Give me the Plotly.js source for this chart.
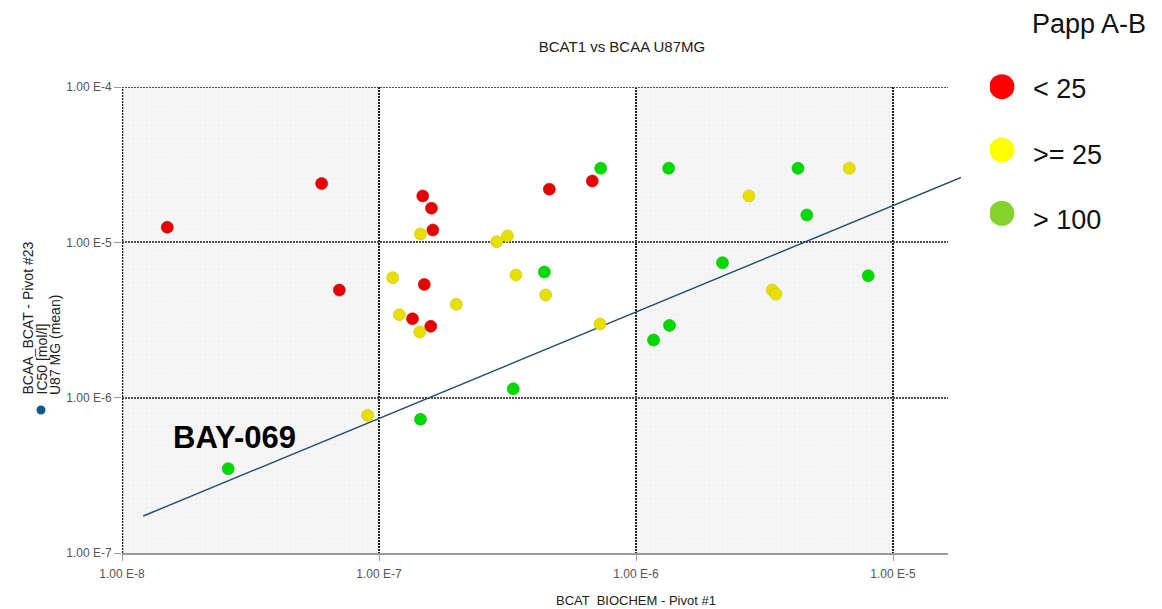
<!DOCTYPE html>
<html><head><meta charset="utf-8">
<script src="https://cdn.plot.ly/plotly-3.0.1.min.js"></script>
<style>html,body{margin:0;padding:0;background:#fff}#chart{width:1162px;height:609px}</style>
</head><body><div id="chart"></div>
<script>
// ---------------- data ----------------
const xTickVals = [1e-8, 1e-7, 1e-6, 1e-5];
const xTickText = ['1.00 E-8', '1.00 E-7', '1.00 E-6', '1.00 E-5'];
const yTickVals = [1e-7, 1e-6, 1e-5, 1e-4];
const yTickText = ['1.00 E-7', '1.00 E-6', '1.00 E-5', '1.00 E-4'];

// shaded decades (BCAT biochem IC50 bands)
const shadedBands = [[1e-8, 1e-7], [1e-6, 1e-5]];

// Papp A-B < 25 (red)
const redX = [1.50e-8, 5.98e-8, 7.01e-8, 1.48e-7, 1.60e-7, 1.62e-7, 1.50e-7, 1.35e-7, 1.59e-7, 4.60e-7, 6.76e-7];
const redY = [1.25e-5, 2.39e-5, 4.93e-6, 1.99e-5, 1.66e-5, 1.20e-5, 5.36e-6, 3.22e-6, 2.88e-6, 2.20e-5, 2.48e-5];
// Papp A-B >= 25 (yellow)
const yellowX = [9.04e-8, 1.45e-7, 2.87e-7, 3.16e-7, 1.13e-7, 3.41e-7, 4.45e-7, 2.00e-7, 1.20e-7, 1.44e-7, 7.24e-7, 2.75e-6, 6.76e-6, 3.39e-6, 3.50e-6];
const yellowY = [7.69e-7, 1.13e-5, 1.01e-5, 1.10e-5, 5.92e-6, 6.16e-6, 4.58e-6, 3.99e-6, 3.42e-6, 2.65e-6, 2.98e-6, 1.99e-5, 3.00e-5, 4.93e-6, 4.65e-6];
// Papp A-B > 100 (green)
const greenX = [2.59e-8, 1.45e-7, 3.33e-7, 4.40e-7, 7.29e-7, 1.34e-6, 4.27e-6, 4.62e-6, 2.17e-6, 8.01e-6, 1.35e-6, 1.17e-6];
const greenY = [3.49e-7, 7.25e-7, 1.14e-6, 6.44e-6, 3.00e-5, 3.00e-5, 3.00e-5, 1.50e-5, 7.39e-6, 6.09e-6, 2.92e-6, 2.35e-6];

// regression line (log-log)
const trendX = [1.21e-8, 1.84e-5];
const trendY = [1.73e-7, 2.62e-5];

// legend
const legendTitle = 'Papp A-B';
const legendLabels = ['< 25', '>= 25', '> 100'];
const legendColors = ['#ff0000', '#ffff00', '#86d22c'];

// ---------------- layout helpers ----------------
const W = 1162, H = 609;
const px = v => v / W;
const py = v => 1 - v / H;
const FONT = 'Liberation Sans, Arial, Helvetica, sans-serif';
const DEC = 257; // px per decade
const plotL = 122, plotR = 948, plotT = 87, plotB = 553, lineR = 961;
const xLo = Math.log10(xTickVals[0]);
const yRange = [Math.log10(yTickVals[0]), Math.log10(yTickVals[yTickVals.length - 1])];
const yMin = yTickVals[0], yMax = yTickVals[yTickVals.length - 1];

const VGRID = {color: '#222', width: 2.5, dash: '2px,1px'};
const HGRID = {color: '#505050', width: 1.8, dash: '2px,1px'};

const traces = [];
shadedBands.forEach(b => {
  traces.push({
    type: 'scatter', mode: 'none', xaxis: 'x', yaxis: 'y',
    x: [b[0], b[1], b[1], b[0]],
    y: [yMin, yMin, yMax, yMax],
    fill: 'toself', fillcolor: '#f5f5f5',
    fillpattern: {shape: '+', size: 4.5, solidity: 0.12, fgcolor: '#e9e9e9', bgcolor: '#f6f6f6', fgopacity: 1},
    hoverinfo: 'skip', showlegend: false
  });
});
// empty trace so the grid-only subplot (x2,y2) is created above the bands
traces.push({type: 'scatter', mode: 'markers', xaxis: 'x2', yaxis: 'y2', x: [], y: [], hoverinfo: 'skip'});
traces.push({
  type: 'scatter', mode: 'lines', xaxis: 'x3', yaxis: 'y',
  x: trendX, y: trendY, line: {color: '#1f4d69', width: 1.4}, hoverinfo: 'skip'
});
const series = [
  {x: redX, y: redY, c: '#e60000', l: '#c40000', n: '< 25'},
  {x: yellowX, y: yellowY, c: '#e6df00', l: '#c9c200', n: '>= 25'},
  {x: greenX, y: greenY, c: '#00da00', l: '#00b400', n: '> 100'}
];
series.forEach(s => traces.push({
  type: 'scatter', mode: 'markers', xaxis: 'x3', yaxis: 'y', name: s.n,
  x: s.x, y: s.y,
  marker: {size: 12, color: s.c, line: {color: s.l, width: 0.6}}
}));
traces.push({
  type: 'scatter', mode: 'markers', xaxis: 'x4', yaxis: 'y4',
  x: legendLabels.map(() => 0), y: legendLabels.map((_, i) => i),
  marker: {size: 25, color: legendColors}, hoverinfo: 'skip'
});

const tickFont = {size: 12, color: '#555', family: FONT};
const annotations = [
  {text: 'BCAT  BIOCHEM - Pivot #1', xref: 'paper', yref: 'paper', x: px(636), y: py(600),
   xanchor: 'center', yanchor: 'middle', showarrow: false, font: {size: 13, color: '#222'}},
  {text: 'BCAA_BCAT - Pivot #23', xref: 'paper', yref: 'paper', x: px(27), y: py(397), textangle: -90,
   xanchor: 'center', yanchor: 'bottom', showarrow: false, font: {size: 14, color: '#222'}},
  {text: 'IC50 [mol/l]', xref: 'paper', yref: 'paper', x: px(41), y: py(397), textangle: -90,
   xanchor: 'center', yanchor: 'bottom', showarrow: false, font: {size: 14, color: '#222'}},
  {text: 'U87 MG (mean)', xref: 'paper', yref: 'paper', x: px(55), y: py(397), textangle: -90,
   xanchor: 'center', yanchor: 'bottom', showarrow: false, font: {size: 14, color: '#222'}},
  {text: '<b>BAY-069</b>', xref: 'paper', yref: 'paper', x: px(234), y: py(437),
   xanchor: 'center', yanchor: 'middle', showarrow: false, font: {size: 31, color: '#000'}},
  {text: legendTitle, xref: 'paper', yref: 'paper', x: px(1089), y: py(24),
   xanchor: 'center', yanchor: 'middle', showarrow: false, font: {size: 27, color: '#111'}}
];
legendLabels.forEach((lab, i) => annotations.push({
  text: lab, xref: 'x4', yref: 'y4', x: 0, y: i, xanchor: 'left', yanchor: 'middle',
  xshift: 29, yshift: -2 - 2.5 * i, showarrow: false, font: {size: 27, color: '#111'}
}));

const layout = {
  width: W, height: H,
  margin: {l: 0, r: 0, t: 0, b: 0},
  paper_bgcolor: '#ffffff', plot_bgcolor: 'rgba(0,0,0,0)',
  showlegend: false, hovermode: false,
  font: {family: FONT, color: '#333'},
  title: {text: 'BCAT1 vs BCAA U87MG', x: px(622), xanchor: 'center', y: py(47), yanchor: 'middle',
          font: {size: 15, color: '#222', family: FONT}},
  xaxis: {type: 'log', domain: [px(plotL), px(plotR)], range: [xLo, xLo + (plotR - plotL) / DEC], anchor: 'y',
          tickvals: xTickVals, ticktext: xTickText, ticks: 'outside', ticklen: 6, tickcolor: '#9a9a9a',
          showline: true, linecolor: '#9a9a9a', linewidth: 2, showgrid: false, zeroline: false,
          tickfont: tickFont, ticklabelstandoff: 3},
  yaxis: {type: 'log', domain: [py(plotB), py(plotT)], range: yRange, anchor: 'x',
          tickvals: yTickVals, ticktext: yTickText, ticks: 'outside', ticklen: 7, tickcolor: '#9a9a9a',
          showline: false, showgrid: false, zeroline: false, tickfont: tickFont},
  xaxis2: {type: 'log', domain: [px(plotL), px(plotR)], range: [xLo, xLo + (plotR - plotL) / DEC], anchor: 'y2',
           tickvals: xTickVals, showticklabels: false, ticks: '', showline: false, zeroline: false,
           showgrid: true, gridcolor: VGRID.color, gridwidth: VGRID.width, griddash: VGRID.dash},
  yaxis2: {type: 'log', domain: [py(plotB), py(plotT)], range: yRange, anchor: 'x2',
           tickvals: yTickVals.slice(1), showticklabels: false, ticks: '', showline: false, zeroline: false,
           showgrid: true, gridcolor: HGRID.color, gridwidth: HGRID.width, griddash: HGRID.dash},
  xaxis3: {type: 'log', domain: [px(plotL), px(lineR)], range: [xLo, xLo + (lineR - plotL) / DEC], anchor: 'y',
           visible: false},
  xaxis4: {domain: [px(990), px(1160)], range: [-0.075, 1], anchor: 'y4', visible: false},
  yaxis4: {domain: [py(245), py(55)], range: [legendLabels.length - 0.5, -0.5], anchor: 'x4', visible: false},
  annotations: annotations,
  shapes: [
    // grid lines on the plot edges (Plotly drops gridlines that sit on the range limits)
    {type: 'line', xref: 'x', yref: 'y domain', x0: xTickVals[0], x1: xTickVals[0], y0: 0, y1: 1,
     layer: 'above', line: VGRID},
    {type: 'line', xref: 'x domain', yref: 'y', x0: 0, x1: 1, y0: yMax, y1: yMax,
     layer: 'above', line: HGRID},
    {type: 'circle', xref: 'paper', yref: 'paper', x0: px(36.5), x1: px(45.5), y0: py(414.5), y1: py(405.5),
     fillcolor: '#0b5a8a', line: {width: 0}}
  ]
};

Plotly.newPlot('chart', traces, layout, {displayModeBar: false, staticPlot: true});
</script>
</body></html>
